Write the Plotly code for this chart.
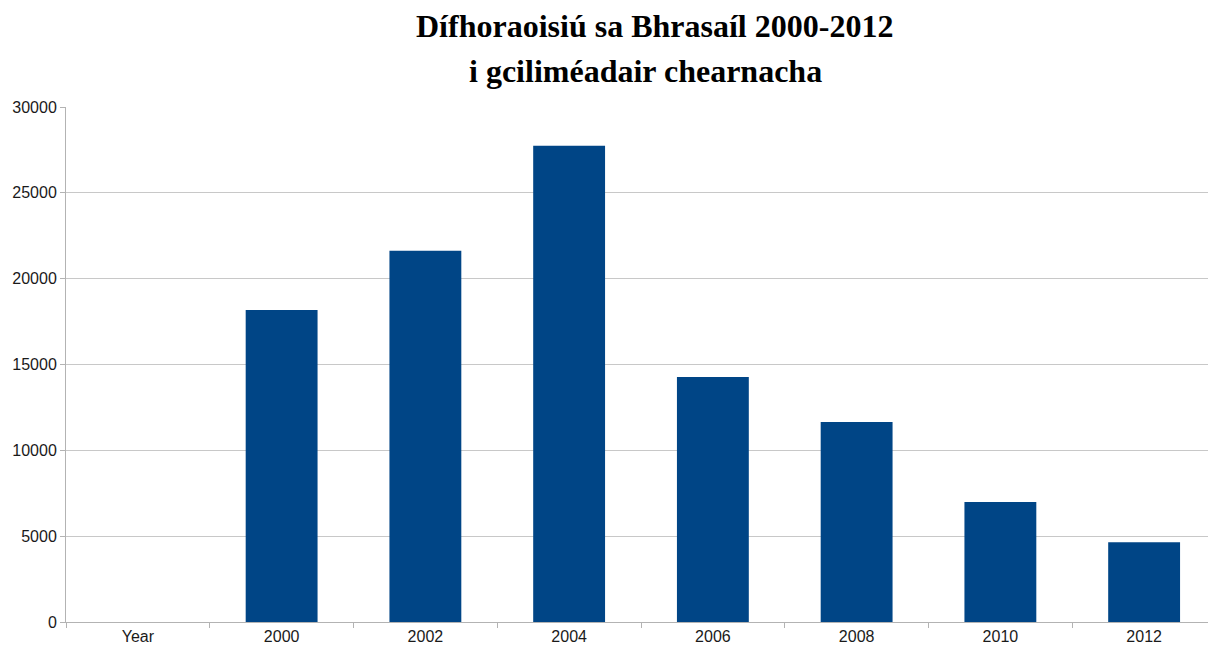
import plotly.graph_objects as go

categories = ["Year", "2000", "2002", "2004", "2006", "2008", "2010", "2012"]
values = [None, 18170, 21620, 27750, 14270, 11650, 6990, 4640]
title_line1 = "Dífhoraoisiú sa Bhrasaíl 2000-2012"
title_line2 = "i gciliméadair chearnacha"

OFF = 8  # default page body margin
W, H = 1216 - OFF, 648 - OFF
ml, mr, mt, mb = 66 - OFF, 0, 107 - OFF, 26
pw, ph = W - ml - mr, H - mt - mb

def px_x(x):
    return (x - OFF - ml) / pw

def px_y(y):
    return (H - mb - (y - OFF)) / ph

fig = go.Figure(go.Bar(x=categories, y=values, marker=dict(color="#004586", line=dict(width=0)),
                       width=0.5))

fig.update_layout(
    width=W, height=H,
    margin=dict(l=ml, r=mr, t=mt, b=mb),
    paper_bgcolor="white", plot_bgcolor="white",
    showlegend=False,
    font=dict(family="Liberation Sans, Arial", size=16, color="#1a1a1a"),
    xaxis=dict(type="category", tickson="boundaries", ticks="outside", ticklen=5,
               tickcolor="#b3b3b3", showline=True, linecolor="#b3b3b3", linewidth=1,
               showgrid=False, tickfont=dict(size=16, color="#1a1a1a"), range=[-0.5, 7.5]),
    yaxis=dict(range=[0, 30000], dtick=5000, ticks="outside", ticklen=5, tickcolor="#b3b3b3",
               showline=True, linecolor="#b3b3b3", linewidth=1, showgrid=True,
               gridcolor="#c8c8c8", gridwidth=1, zeroline=False,
               tickfont=dict(size=16, color="#1a1a1a"), tickformat="d"),
    shapes=[dict(type="rect", xref="paper", yref="paper", x0=px_x(410), x1=px_x(932),
                 y0=px_y(112), y1=px_y(95), fillcolor="white", line=dict(width=0), layer="above")],
    annotations=[
        dict(text="<b>" + title_line1 + "</b>", xref="paper", yref="paper", x=px_x(654), y=px_y(26),
             xanchor="center", yanchor="middle", showarrow=False, borderpad=0,
             font=dict(family="Liberation Serif, Times New Roman", size=32, color="black")),
        dict(text="<b>" + title_line2 + "</b>", xref="paper", yref="paper", x=px_x(645), y=px_y(71),
             xanchor="center", yanchor="middle", showarrow=False, borderpad=0,
             font=dict(family="Liberation Serif, Times New Roman", size=32, color="black")),
    ],
)

fig.write_html("out.html")
